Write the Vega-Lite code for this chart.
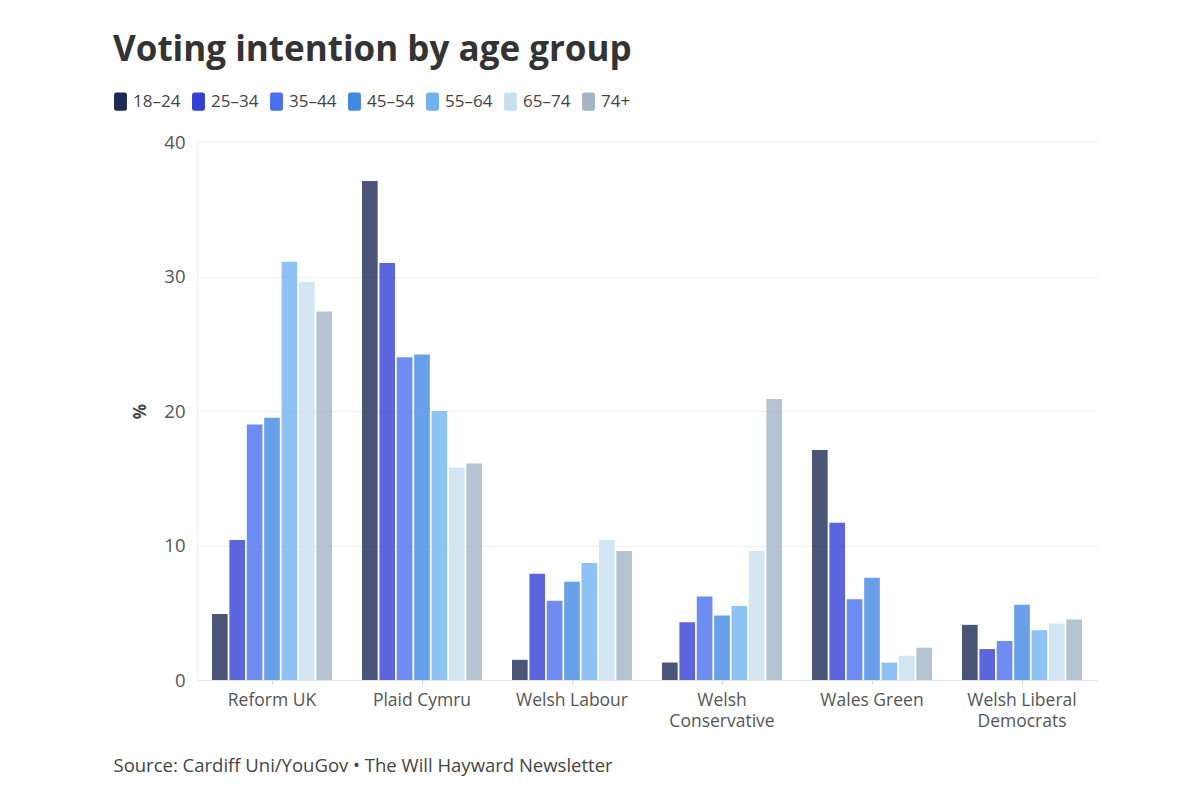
{
  "$schema": "https://vega.github.io/schema/vega-lite/v6.json",
  "autosize": {"type": "none"},
  "width": 900,
  "height": 538,
  "padding": {"left": 197, "top": 142, "right": 103, "bottom": 127},
  "background": "white",
  "config": {
    "font": "Open Sans",
    "view": {"stroke": null}
  },
  "title": {
    "text": "Voting intention by age group",
    "anchor": "start",
    "frame": "group",
    "dx": -84,
    "offset": 24,
    "fontSize": 35,
    "fontWeight": 700,
    "color": "#333333",
    "font": "Open Sans"
  },
  "data": {
    "values": [
      {"party": "Reform UK", "age": "18–24", "value": 4.9},
      {"party": "Reform UK", "age": "25–34", "value": 10.4},
      {"party": "Reform UK", "age": "35–44", "value": 19.0},
      {"party": "Reform UK", "age": "45–54", "value": 19.5},
      {"party": "Reform UK", "age": "55–64", "value": 31.1},
      {"party": "Reform UK", "age": "65–74", "value": 29.6},
      {"party": "Reform UK", "age": "74+", "value": 27.4},
      {"party": "Plaid Cymru", "age": "18–24", "value": 37.1},
      {"party": "Plaid Cymru", "age": "25–34", "value": 31.0},
      {"party": "Plaid Cymru", "age": "35–44", "value": 24.0},
      {"party": "Plaid Cymru", "age": "45–54", "value": 24.2},
      {"party": "Plaid Cymru", "age": "55–64", "value": 20.0},
      {"party": "Plaid Cymru", "age": "65–74", "value": 15.8},
      {"party": "Plaid Cymru", "age": "74+", "value": 16.1},
      {"party": "Welsh Labour", "age": "18–24", "value": 1.5},
      {"party": "Welsh Labour", "age": "25–34", "value": 7.9},
      {"party": "Welsh Labour", "age": "35–44", "value": 5.9},
      {"party": "Welsh Labour", "age": "45–54", "value": 7.3},
      {"party": "Welsh Labour", "age": "55–64", "value": 8.7},
      {"party": "Welsh Labour", "age": "65–74", "value": 10.4},
      {"party": "Welsh Labour", "age": "74+", "value": 9.6},
      {"party": "Welsh Conservative", "age": "18–24", "value": 1.3},
      {"party": "Welsh Conservative", "age": "25–34", "value": 4.3},
      {"party": "Welsh Conservative", "age": "35–44", "value": 6.2},
      {"party": "Welsh Conservative", "age": "45–54", "value": 4.8},
      {"party": "Welsh Conservative", "age": "55–64", "value": 5.5},
      {"party": "Welsh Conservative", "age": "65–74", "value": 9.6},
      {"party": "Welsh Conservative", "age": "74+", "value": 20.9},
      {"party": "Wales Green", "age": "18–24", "value": 17.1},
      {"party": "Wales Green", "age": "25–34", "value": 11.7},
      {"party": "Wales Green", "age": "35–44", "value": 6.0},
      {"party": "Wales Green", "age": "45–54", "value": 7.6},
      {"party": "Wales Green", "age": "55–64", "value": 1.3},
      {"party": "Wales Green", "age": "65–74", "value": 1.8},
      {"party": "Wales Green", "age": "74+", "value": 2.4},
      {"party": "Welsh Liberal Democrats", "age": "18–24", "value": 4.1},
      {"party": "Welsh Liberal Democrats", "age": "25–34", "value": 2.3},
      {"party": "Welsh Liberal Democrats", "age": "35–44", "value": 2.9},
      {"party": "Welsh Liberal Democrats", "age": "45–54", "value": 5.6},
      {"party": "Welsh Liberal Democrats", "age": "55–64", "value": 3.7},
      {"party": "Welsh Liberal Democrats", "age": "65–74", "value": 4.2},
      {"party": "Welsh Liberal Democrats", "age": "74+", "value": 4.5}
    ]
  },
  "mark": {"type": "bar", "fillOpacity": 0.8},
  "encoding": {
    "x": {
      "field": "party",
      "type": "nominal",
      "sort": null,
      "scale": {"paddingInner": 0.2, "paddingOuter": 0.1},
      "axis": {
        "title": "Source: Cardiff Uni/YouGov • The Will Hayward Newsletter",
        "titleAnchor": "start",
        "titleAlign": "left",
        "titleX": -84,
        "titleY": 76,
        "titleFontSize": 18.5,
        "titleFontWeight": 400,
        "titleColor": "#444444",
        "titleFont": "Open Sans",
        "labelAngle": 0,
        "labelFontSize": 17.5,
        "labelColor": "#555555",
        "labelPadding": 7,
        "labelLineHeight": 21,
        "labelExpr": "datum.label == 'Welsh Conservative' ? ['Welsh', 'Conservative'] : datum.label == 'Welsh Liberal Democrats' ? ['Welsh Liberal', 'Democrats'] : datum.label",
        "domainColor": "#e4e4e4",
        "tickColor": "#d0d0d0",
        "tickSize": 4,
        "grid": false
      }
    },
    "xOffset": {
      "field": "age",
      "type": "nominal",
      "sort": null,
      "scale": {"paddingInner": 0.1}
    },
    "y": {
      "field": "value",
      "type": "quantitative",
      "scale": {"domain": [0, 40]},
      "axis": {
        "title": "%",
        "titleFontSize": 17,
        "titleFontWeight": 700,
        "titleColor": "#444444",
        "titlePadding": 14,
        "values": [0, 10, 20, 30, 40],
        "labelFontSize": 18.5,
        "labelColor": "#555555",
        "labelPadding": 12,
        "ticks": false,
        "domainColor": "#eeeeee",
        "gridColor": "#efefef"
      }
    },
    "color": {
      "field": "age",
      "type": "nominal",
      "sort": null,
      "scale": {
        "domain": ["18–24", "25–34", "35–44", "45–54", "55–64", "65–74", "74+"],
        "range": ["#1d2b56", "#3240d3", "#4a6fef", "#4288e5", "#72b1f1", "#c7e0f0", "#a2b5c4"]
      },
      "legend": {
        "title": null,
        "orient": "none",
        "legendX": -86,
        "legendY": -50,
        "direction": "horizontal",
        "columns": 7,
        "columnPadding": 8,
        "symbolType": "M-0.45,-1 L0.45,-1 Q0.7,-1 0.7,-0.75 L0.7,0.75 Q0.7,1 0.45,1 L-0.45,1 Q-0.7,1 -0.7,0.75 L-0.7,-0.75 Q-0.7,-1 -0.45,-1 Z",
        "symbolSize": 340,
        "symbolOpacity": 1,
        "symbolStrokeWidth": 0,
        "labelFontSize": 17,
        "labelColor": "#444444",
        "labelOffset": 3,
        "encode": {"symbols": {"update": {"fillOpacity": {"value": 1}, "opacity": {"value": 1}}}}
      }
    }
  }
}
